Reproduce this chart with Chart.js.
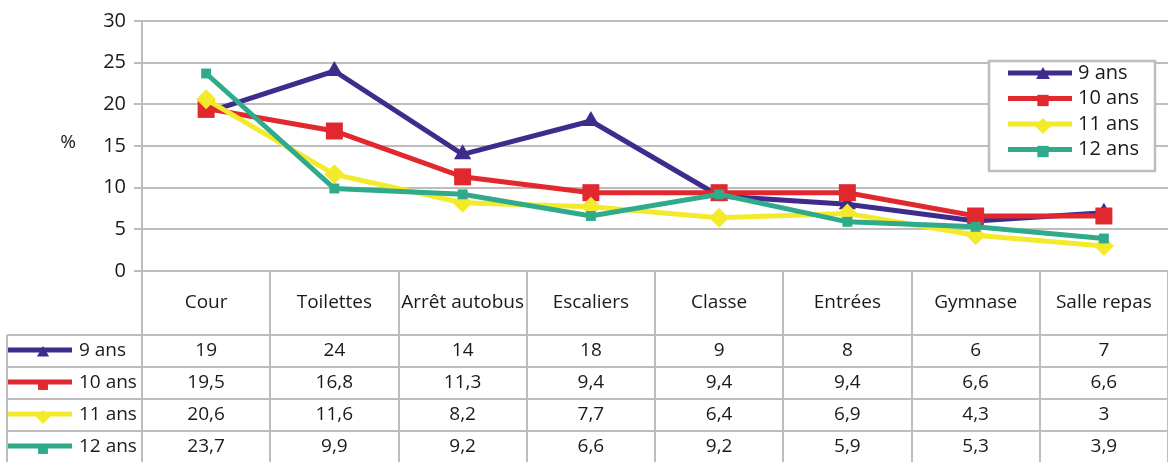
<!DOCTYPE html>
<html lang="fr">
<head>
<meta charset="utf-8">
<title>Lieux - %</title>
<script src="https://cdn.jsdelivr.net/npm/chart.js@4/dist/chart.umd.min.js"></script>
<style>
  html, body { margin: 0; padding: 0; background: #fff; }
  canvas { display: block; }
</style>
</head>
<body>
<canvas id="graphLieux" width="1168" height="462"></canvas>
<script>
// Données
const lieux = ['Cour', 'Toilettes', 'Arrêt autobus', 'Escaliers', 'Classe', 'Entrées', 'Gymnase', 'Salle repas'];
const ans9 = [19, 24, 14, 18, 9, 8, 6, 7];
const ans10 = [19.5, 16.8, 11.3, 9.4, 9.4, 9.4, 6.6, 6.6];
const ans11 = [20.6, 11.6, 8.2, 7.7, 6.4, 6.9, 4.3, 3];
const ans12 = [23.7, 9.9, 9.2, 6.6, 9.2, 5.9, 5.3, 3.9];
const nomsSeries = ['9 ans', '10 ans', '11 ans', '12 ans'];
const yMin = 0, yMax = 30, yPas = 5;

const police = '"Open Sans", "Noto Sans", sans-serif';
const gris = '#bdbdbd';
const texte = '#1a1a1a';

const couleurs = ['#3f2b8c', '#e1282f', '#f4ea2c', '#2fab8c'];
const formes = ['triangle', 'rect', 'rectRot', 'rect'];
const rayons = [10, 12, 10, 7];

function serie(i, valeurs) {
    return {
        label: nomsSeries[i],
        data: valeurs,
        borderColor: couleurs[i],
        backgroundColor: couleurs[i],
        borderWidth: 5,
        pointStyle: formes[i],
        pointRadius: rayons[i],
        pointBorderWidth: 0,
        pointHoverRadius: rayons[i],
        tension: 0,
        fill: false,
        order: 4 - i // le 12 ans dessus
    };
}

// nombre avec virgule décimale
const fr = v => String(v).replace('.', ',');

// trait + marqueur (légende et tableau)
function marqueur(ctx, i, x1, x2, y, r, dy) {
    ctx.save();
    ctx.strokeStyle = couleurs[i];
    ctx.lineWidth = 5;
    ctx.beginPath();
    ctx.moveTo(x1, y);
    ctx.lineTo(x2, y);
    ctx.stroke();
    ctx.fillStyle = couleurs[i];
    Chart.helpers.drawPoint(ctx, { pointStyle: formes[i], radius: r, borderWidth: 0, rotation: 0 }, (x1 + x2) / 2 + 3, y + dy);
    ctx.restore();
}

// Tableau de données + légende + "%"
const tableauPlugin = {
    id: 'tableau',
    afterDraw(chart) {
        const ctx = chart.ctx;
        const xs = chart.scales.x;
        const area = chart.chartArea;
        const larg = xs.getPixelForValue(1) - xs.getPixelForValue(0);
        const gauche = area.left;
        const haut = area.bottom;
        const basEntete = haut + 64;
        const hLigne = 32;
        const bord = 7;

        ctx.save();
        ctx.strokeStyle = gris;
        ctx.lineWidth = 2;

        // lignes verticales
        for (let k = 0; k <= lieux.length; k++) {
            const x = Math.round(gauche + k * larg);
            ctx.beginPath();
            ctx.moveTo(x, haut);
            ctx.lineTo(x, chart.height);
            ctx.stroke();
        }
        ctx.beginPath();
        ctx.moveTo(bord, basEntete);
        ctx.lineTo(bord, chart.height);
        ctx.stroke();

        // lignes horizontales
        for (let r = 0; r < nomsSeries.length; r++) {
            const y = basEntete + r * hLigne;
            ctx.beginPath();
            ctx.moveTo(bord, y);
            ctx.lineTo(chart.width, y);
            ctx.stroke();
        }

        ctx.fillStyle = texte;
        ctx.font = '19px ' + police;
        ctx.textAlign = 'center';
        ctx.textBaseline = 'middle';

        // en-têtes
        lieux.forEach((nom, i) => {
            ctx.fillText(nom, xs.getPixelForValue(i), haut + 32);
        });

        // valeurs
        const series = [ans9, ans10, ans11, ans12];
        series.forEach((vals, r) => {
            const y = basEntete + r * hLigne + hLigne / 2;
            vals.forEach((v, i) => {
                ctx.fillText(fr(v), xs.getPixelForValue(i), y);
            });
            marqueur(ctx, r, 8, 72, y - 1, 7, 3);
            ctx.fillStyle = texte;
            ctx.textAlign = 'left';
            ctx.fillText(nomsSeries[r], 79, y);
            ctx.textAlign = 'center';
        });

        // titre de l'axe
        ctx.fillText('%', 68, 143);

        // légende dans la zone du graphique
        const lx = 989, ly = 61, lw = 166, lh = 110;
        ctx.fillStyle = '#fff';
        ctx.fillRect(lx, ly, lw, lh);
        ctx.strokeStyle = gris;
        ctx.lineWidth = 2.5;
        ctx.strokeRect(lx, ly, lw, lh);
        ctx.font = '20px ' + police;
        ctx.textAlign = 'left';
        nomsSeries.forEach((nom, r) => {
            const y = 73 + r * 25.5;
            marqueur(ctx, r, 1008, 1072, y, 8, 2);
            ctx.fillStyle = texte;
            ctx.fillText(nom, 1078, y);
        });
        ctx.restore();
    }
};

new Chart(document.getElementById('graphLieux').getContext('2d'), {
    type: 'line',
    data: {
        labels: lieux,
        datasets: [serie(0, ans9), serie(1, ans10), serie(2, ans11), serie(3, ans12)]
    },
    options: {
        responsive: false,
        animation: false,
        devicePixelRatio: 1,
        layout: { autoPadding: false, padding: { top: 21, right: 0, bottom: 191, left: 0 } },
        plugins: {
            legend: { display: false },
            tooltip: { enabled: false }
        },
        scales: {
            x: {
                display: false,
                offset: true
            },
            y: {
                min: yMin,
                max: yMax,
                ticks: {
                    stepSize: yPas,
                    color: texte,
                    font: { family: police, size: 20 },
                    padding: 8
                },
                grid: {
                    color: gris,
                    lineWidth: 2,
                    tickLength: 8
                },
                border: { color: gris, width: 2 },
                afterFit(scale) { scale.width = 142; }
            }
        }
    },
    plugins: [tableauPlugin]
});
</script>
</body>
</html>
